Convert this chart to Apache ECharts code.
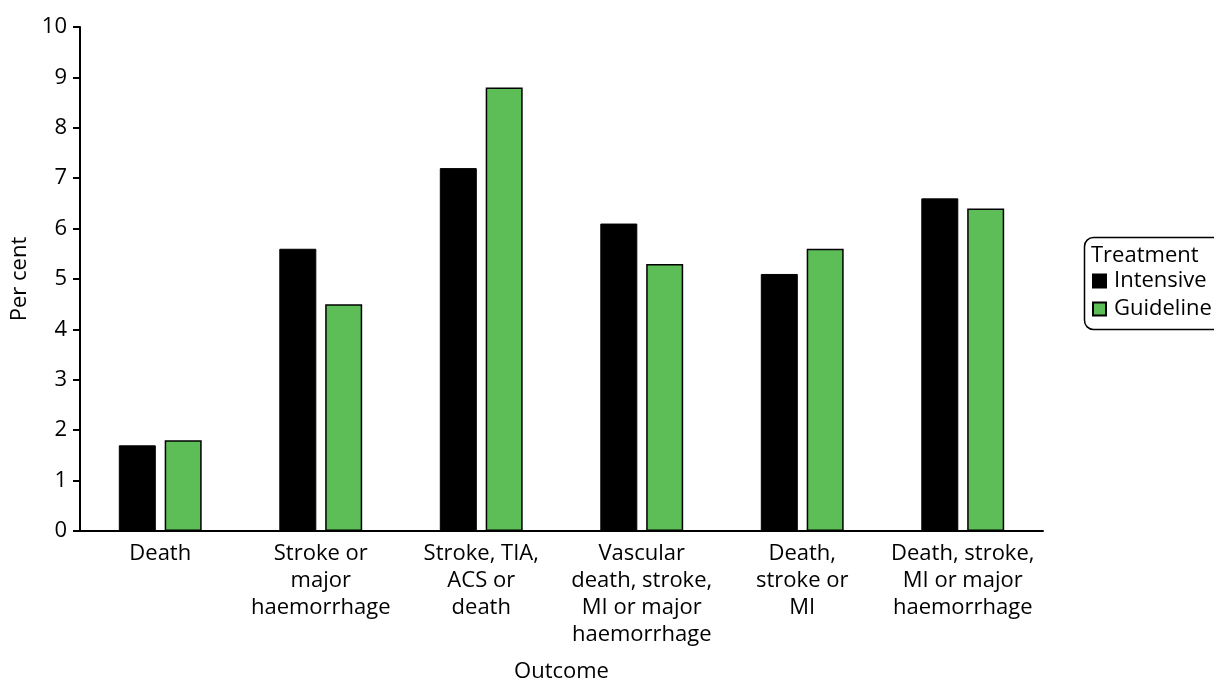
<!DOCTYPE html>
<html>
<head>
<meta charset="utf-8">
<script src="https://cdn.jsdelivr.net/npm/echarts@6/dist/echarts.min.js"></script>
<style>
html,body{margin:0;padding:0;background:#fff;}
#c{width:1214px;height:680px;}
</style>
</head>
<body>
<div id="c"></div>
<script>
const categories = ["Death", "Stroke or\nmajor\nhaemorrhage", "Stroke, TIA,\nACS or\ndeath", "Vascular\ndeath, stroke,\nMI or major\nhaemorrhage", "Death,\nstroke or\nMI", "Death, stroke,\nMI or major\nhaemorrhage"];
const intensive = [1.7, 5.6, 7.2, 6.1, 5.1, 6.6];
const guideline = [1.8, 4.5, 8.8, 5.3, 5.6, 6.4];
const yTicks = [0, 10, 1];

const FONT = "Open Sans";
const FS = 22;
const chart = echarts.init(document.getElementById('c'));
chart.setOption({
  animation: false,
  textStyle: {fontFamily: FONT, color: '#000'},
  grid: {left: 80, right: 171, top: 27, bottom: 149, containLabel: false, outerBoundsMode: 'none'},
  legend: {
    orient: 'vertical', left: 1092, top: 270, padding: 0,
    icon: 'rect', itemWidth: 13, itemHeight: 13, itemGap: 6,
    textStyle: {fontFamily: FONT, fontSize: FS, lineHeight: 22, color: '#000', padding: [0,0,0,3]},
    data: ['Intensive', 'Guideline']
  },
  graphic: [
    {type: 'rect', left: 1082, top: 235, shape: {width: 160, height: 92, r: 9}, style: {fill: 'none', stroke: '#000', lineWidth: 1.5}},
    {type: 'text', left: 1091, top: 245, style: {text: 'Treatment', font: FS + 'px "Open Sans"', fill: '#000'}}
  ],
  xAxis: {
    type: 'category', data: categories,
    name: 'Outcome', nameLocation: 'middle', nameGap: 130,
    nameTextStyle: {fontFamily: FONT, fontSize: FS, color: '#000'},
    axisLine: {lineStyle: {color: '#000', width: 2}},
    axisTick: {show: false},
    axisLabel: {fontFamily: FONT, fontSize: FS, color: '#000', lineHeight: 27, interval: 0, margin: 9}
  },
  yAxis: {
    type: 'value', min: yTicks[0], max: yTicks[1], interval: yTicks[2],
    name: 'Per cent', nameLocation: 'middle', nameGap: 49, nameRotate: 90,
    nameTextStyle: {fontFamily: FONT, fontSize: FS, color: '#000'},
    axisLine: {show: true, lineStyle: {color: '#000', width: 2}},
    axisTick: {show: true, length: 7, lineStyle: {color: '#000', width: 2}},
    axisLabel: {fontFamily: FONT, fontSize: FS, color: '#000', margin: 13},
    splitLine: {show: false}
  },
  series: [
    {name: 'Intensive', type: 'bar', data: intensive, barWidth: 37, barGap: '24%',
     itemStyle: {color: '#000', borderColor: '#000', borderWidth: 1}},
    {name: 'Guideline', type: 'bar', data: guideline, barWidth: 37,
     itemStyle: {color: '#5dbd56', borderColor: '#000', borderWidth: 1.5}}
  ]
});
</script>
</body>
</html>
